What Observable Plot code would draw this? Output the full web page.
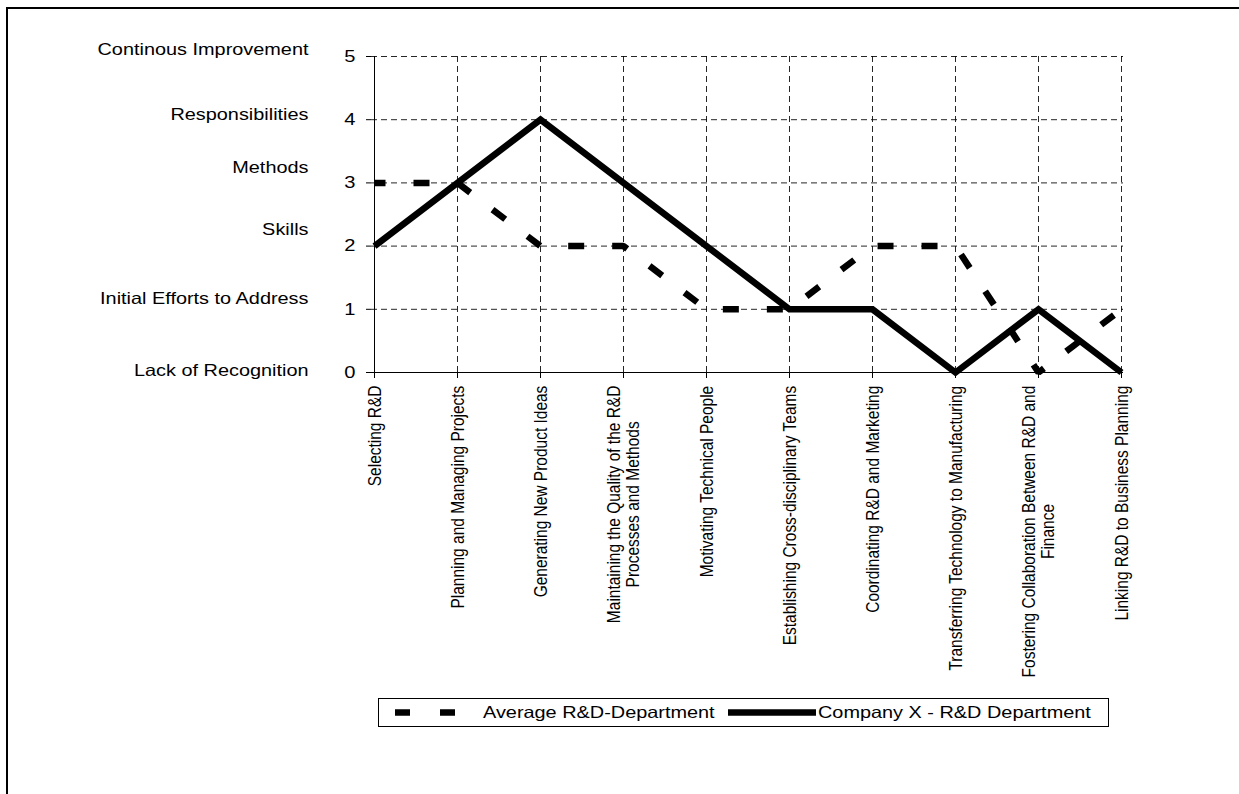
<!DOCTYPE html>
<html>
<head>
<meta charset="utf-8">
<script src="https://cdn.jsdelivr.net/npm/d3@7"></script>
<script src="https://cdn.jsdelivr.net/npm/@observablehq/plot@0.6"></script>
<style>
  html, body { margin: 0; padding: 0; background: #fff; overflow: hidden; }
  #wrap { position: relative; width: 1239px; height: 794px; overflow: hidden; font-family: "Liberation Sans", Arial, sans-serif; }
  #frame { position: absolute; left: 6px; top: 7px; width: 1400px; height: 1000px; border: 2.5px solid #000; }
  #chart { position: absolute; left: 0; top: 0; }
  #legend { position: absolute; left: 378px; top: 698px; }
</style>
</head>
<body>
<div id="wrap">
  <div id="frame"></div>
  <div id="chart"></div>
  <div id="legend"></div>
</div>
<script>
// ---------------- DATA ----------------
const categories = [
  "Selecting R&D",
  "Planning and Managing Projects",
  "Generating New Product Ideas",
  "Maintaining the Quality of the R&D\nProcesses and Methods",
  "Motivating Technical People",
  "Establishing Cross-disciplinary Teams",
  "Coordinating R&D and Marketing",
  "Transferring Technology to Manufacturing",
  "Fostering Collaboration Between R&D and\nFinance",
  "Linking R&D to Business Planning"
];
const averageRD = [3, 3, 2, 2, 1, 1, 2, 2, 0, 1];
const companyX  = [2, 3, 4, 3, 2, 1, 1, 0, 1, 0];
const seriesNames = ["Average R&D-Department", "Company X - R&D Department"];
const levelLabels = ["Lack of Recognition", "Initial Efforts to Address", "Skills", "Methods", "Responsibilities", "Continous Improvement"];
const levelValues = [0, 1, 2, 3, 4, 5];
const yTicks = [0, 1, 2, 3, 4, 5];

// ---------------- LAYOUT / STYLE ----------------
const W = 1239, H = 794;
const mL = 371, mR = 116, mT = 56, mB = 422;
const FONT = '"Liberation Sans", Arial, Helvetica, sans-serif';
const STRETCH = 1.22;           // the reference text is horizontally stretched
const xLabelSize = 15.5, levelSize = 16.3, tickSize = 16.5;
const levelNudge = [2, 11, 16, 15, 5, 7]; // px upward, per level label
const lineW = 6.5;

const rows = (vals, name) => categories.map((c, i) => ({category: c, value: vals[i], series: name}));
const avgRows = rows(averageRD, seriesNames[0]);
const compRows = rows(companyX, seriesNames[1]);

// measure longest line of each category label (for centring multi-line labels)
const ctx = document.createElement("canvas").getContext("2d");
ctx.font = `${xLabelSize}px "Liberation Sans", Arial, sans-serif`;
const longest = c => Math.max(...c.split("\n").map(s => ctx.measureText(s).width));
const yPix = Plot.scale({y: {domain: [0, 5], range: [H - mB, mT]}});
const labelTop = (H - mB) + 13;

const marks = [
  Plot.gridY([1, 2, 3, 4, 5], {stroke: "#000", strokeOpacity: 0.85, strokeWidth: 1, strokeDasharray: "6,4"}),
  Plot.gridX(categories.slice(1), {stroke: "#000", strokeOpacity: 0.85, strokeWidth: 1, strokeDasharray: "6,4"}),
  Plot.ruleY([0], {stroke: "#000", strokeWidth: 1}),
  Plot.ruleX([categories[0]], {stroke: "#000", strokeWidth: 1}),
  Plot.axisY({ticks: yTicks, tickSize: 5, tickPadding: 11, fontSize: tickSize, label: null, tickFormat: d => String(d), stroke: "#000", fill: "#000"}),
  Plot.axisX({tickSize: 6, tickFormat: () => "", label: null, stroke: "#000"}),
  Plot.line(avgRows, {x: "category", y: "value", stroke: "#000", strokeWidth: lineW,
    strokeDasharray: "16,28", strokeDashoffset: 5, strokeLinecap: "butt", strokeLinejoin: "miter"}),
  Plot.line(compRows, {x: "category", y: "value", stroke: "#000", strokeWidth: lineW,
    strokeLinecap: "butt", strokeLinejoin: "miter", strokeMiterlimit: 10}),
  Plot.text(categories, {
    x: d => d,
    y: d => yPix.invert(labelTop + longest(d) / 2),
    text: d => d, rotate: -90, textAnchor: "middle", lineAnchor: "middle",
    fontSize: xLabelSize, fill: "#000", ariaLabel: "xlabels"
  }),
  ...levelLabels.map((lab, i) => Plot.text([lab], {
    frameAnchor: "left", dx: -63, y: () => levelValues[i], dy: -levelNudge[i],
    text: d => d, textAnchor: "end", fontSize: levelSize, fill: "#000"
  }))
];

const chart = Plot.plot({
  width: W, height: H,
  marginLeft: mL, marginRight: mR, marginTop: mT, marginBottom: mB,
  style: {fontFamily: FONT, background: "transparent", color: "#000", overflow: "visible"},
  x: {type: "point", domain: categories, padding: 0},
  y: {domain: [0, 5], nice: false},
  marks
});

// stretch text horizontally (screen space) like the reference
chart.querySelectorAll("text").forEach(t => {
  const tr = t.getAttribute("transform");
  if (tr) {
    if (tr.includes("rotate")) t.setAttribute("transform", tr.replace("rotate", `scale(${STRETCH},1) rotate`));
    else t.setAttribute("transform", tr + ` scale(${STRETCH},1)`);
  } else {
    const x = +t.getAttribute("x") || 0;
    t.setAttribute("transform", `translate(${x},0) scale(${STRETCH},1) translate(${-x},0)`);
  }
});
document.getElementById("chart").appendChild(chart);

// ---------------- LEGEND ----------------
const lg = d3.select("#legend").append("svg").attr("width", 732).attr("height", 30)
  .style("font-family", FONT).style("overflow", "visible");
lg.append("rect").attr("x", 0.5).attr("y", 0.5).attr("width", 730).attr("height", 28)
  .attr("fill", "#fff").attr("stroke", "#000").attr("stroke-width", 1);
lg.append("line").attr("x1", 17).attr("x2", 78).attr("y1", 14.5).attr("y2", 14.5)
  .attr("stroke", "#000").attr("stroke-width", lineW).attr("stroke-dasharray", "15,30");
lg.append("text").attr("transform", `translate(105,20) scale(${STRETCH},1)`)
  .attr("font-size", levelSize).text(seriesNames[0]);
lg.append("line").attr("x1", 350).attr("x2", 438).attr("y1", 14.5).attr("y2", 14.5)
  .attr("stroke", "#000").attr("stroke-width", lineW);
lg.append("text").attr("transform", `translate(440,20) scale(${STRETCH},1)`)
  .attr("font-size", levelSize).text(seriesNames[1]);
</script>
</body>
</html>
